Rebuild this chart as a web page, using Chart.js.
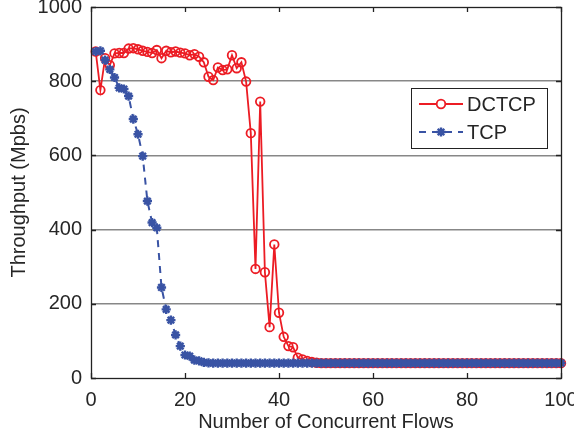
<!DOCTYPE html>
<html>
<head>
<meta charset="utf-8">
<script src="https://cdn.jsdelivr.net/npm/chart.js@4"></script>
<style>
  html, body { margin: 0; padding: 0; background: #fff; }
</style>
</head>
<body>
<canvas id="myChart" width="574" height="431"></canvas>
<script>
// number of concurrent flows, 1..100
const flows = Array.from({ length: 100 }, (_, i) => i + 1);

const dctcp = [
    880, 776, 862, 843, 875, 876, 876, 888, 889, 886,
    882, 879, 876, 884, 862, 882, 878, 880, 877, 875,
    870, 873, 866, 851, 812, 803, 837, 830, 832, 870,
    835, 851, 799, 660, 294, 745, 285, 137, 360, 176,
    111, 86, 83, 55, 50, 46, 43, 41, 40, 40,
    40, 40, 40, 40, 40, 40, 40, 40, 40, 40,
    40, 40, 40, 40, 40, 40, 40, 40, 40, 40,
    40, 40, 40, 40, 40, 40, 40, 40, 40, 40,
    40, 40, 40, 40, 40, 40, 40, 40, 40, 40,
    40, 40, 40, 40, 40, 40, 40, 40, 40, 40
];

const tcp = [
    880, 882, 857, 832, 810, 782, 779, 760, 698, 657,
    598, 477, 419, 405, 244, 185, 156, 116, 86, 62,
    59, 48, 46, 42, 41, 40, 40, 40, 40, 40,
    40, 40, 40, 40, 40, 40, 40, 40, 40, 40,
    40, 40, 40, 40, 40, 40, 40, 40, 40, 40,
    40, 40, 40, 40, 40, 40, 40, 40, 40, 40,
    40, 40, 40, 40, 40, 40, 40, 40, 40, 40,
    40, 40, 40, 40, 40, 40, 40, 40, 40, 40,
    40, 40, 40, 40, 40, 40, 40, 40, 40, 40,
    40, 40, 40, 40, 40, 40, 40, 40, 40, 40
];

const xTicks = [0, 20, 40, 60, 80, 100];
const yTicks = [0, 200, 400, 600, 800, 1000];

const FONT = '"Liberation Sans", Arial, Helvetica, sans-serif';
const TEXT = '#262626';
const RED = '#ec1c24';
const BLUE = '#3953a4';

function pts(vals) {
    return vals.map((v, i) => ({ x: flows[i], y: v }));
}

// frame, inward ticks and the boxed legend
const framePlugin = {
    id: 'frame',
    afterDraw(chart) {
        const ctx = chart.ctx;
        const a = chart.chartArea;
        const xs = chart.scales.x, ys = chart.scales.y;
        ctx.save();
        ctx.strokeStyle = '#222';
        ctx.lineWidth = 1.3;
        ctx.beginPath();
        xTicks.forEach(t => {
            const px = Math.round(xs.getPixelForValue(t)) + 0.5;
            ctx.moveTo(px, a.bottom); ctx.lineTo(px, a.bottom - 5);
            ctx.moveTo(px, a.top); ctx.lineTo(px, a.top + 5);
        });
        yTicks.forEach(t => {
            const py = Math.round(ys.getPixelForValue(t)) + 0.5;
            ctx.moveTo(a.left, py); ctx.lineTo(a.left + 5, py);
            ctx.moveTo(a.right, py); ctx.lineTo(a.right - 5, py);
        });
        ctx.stroke();
        ctx.strokeRect(Math.round(a.left) + 0.5, Math.round(a.top) + 0.5,
            Math.round(a.right - a.left), Math.round(a.bottom - a.top));

        // legend
        const lx = 411, ly = 88, lw = 136, lh = 60;
        ctx.fillStyle = '#fff';
        ctx.fillRect(lx, ly, lw, lh);
        ctx.lineWidth = 1;
        ctx.strokeStyle = '#222';
        ctx.strokeRect(lx + 0.5, ly + 0.5, lw, lh);
        const rows = [
            { ds: chart.data.datasets[0], y: ly + 16 },
            { ds: chart.data.datasets[1], y: ly + 44 }
        ];
        rows.forEach(r => {
            ctx.save();
            ctx.strokeStyle = r.ds.borderColor;
            ctx.lineWidth = r.ds.borderWidth;
            ctx.setLineDash(r.ds.borderDash || []);
            ctx.beginPath();
            ctx.moveTo(419, r.y); ctx.lineTo(463, r.y);
            ctx.stroke();
            ctx.restore();
            ctx.save();
            ctx.strokeStyle = r.ds.pointBorderColor;
            ctx.fillStyle = '#fff';
            ctx.beginPath();
            ctx.arc(441, r.y, 5, 0, Math.PI * 2);
            if (r.ds.pointStyle === 'circle') ctx.fill();
            ctx.fillStyle = r.ds.pointBackgroundColor;
            ctx.lineWidth = r.ds.pointBorderWidth;
            Chart.helpers.drawPoint(ctx, {
                pointStyle: r.ds.pointStyle,
                radius: r.ds.pointRadius,
                borderWidth: r.ds.pointBorderWidth
            }, 441, r.y);
            ctx.restore();
            ctx.fillStyle = TEXT;
            ctx.font = '20px ' + FONT;
            ctx.textBaseline = 'middle';
            ctx.fillText(r.ds.label, 467, r.y + 1);
        });
        ctx.restore();
    }
};

const ctx = document.getElementById('myChart').getContext('2d');
const myChart = new Chart(ctx, {
    type: 'line',
    data: {
        datasets: [{
            label: 'DCTCP',
            data: pts(dctcp),
            borderColor: RED,
            borderWidth: 1.8,
            pointStyle: 'circle',
            pointRadius: 4.3,
            pointBorderWidth: 1.8,
            pointBorderColor: RED,
            pointBackgroundColor: 'rgba(255,255,255,0)',
            tension: 0,
            clip: false,
            order: 1
        }, {
            label: 'TCP',
            data: pts(tcp),
            borderColor: BLUE,
            borderWidth: 2,
            borderDash: [7, 6],
            pointStyle: 'star',
            pointRadius: 4.6,
            pointBorderWidth: 2.4,
            pointBorderColor: BLUE,
            pointBackgroundColor: BLUE,
            tension: 0,
            clip: false,
            order: 0
        }]
    },
    options: {
        responsive: false,
        animation: false,
        devicePixelRatio: 1,
        layout: { padding: { top: 7, right: 13, left: 0, bottom: 0 } },
        plugins: {
            legend: { display: false },
            tooltip: { enabled: false }
        },
        scales: {
            x: {
                type: 'linear',
                min: 0,
                max: 100,
                afterBuildTicks(scale) { scale.ticks = xTicks.map(v => ({ value: v })); },
                afterFit(scale) {
                    scale.height = 53;
                    scale.paddingLeft = 0; scale.paddingRight = 0;
                },
                grid: { display: false, drawTicks: false },
                border: { display: false },
                ticks: {
                    padding: 10, autoSkip: false, maxRotation: 0,
                    color: TEXT, font: { family: FONT, size: 20 },
                    callback: v => String(v)
                },
                title: {
                    display: true,
                    text: 'Number of Concurrent Flows',
                    color: TEXT,
                    font: { family: FONT, size: 20, lineHeight: 0.9 },
                    padding: { top: 0, bottom: 0 }
                }
            },
            y: {
                min: 0,
                max: 1000,
                afterBuildTicks(scale) { scale.ticks = yTicks.map(v => ({ value: v })); },
                afterFit(scale) {
                    scale.width = 91;
                    scale.paddingTop = 0; scale.paddingBottom = 0;
                },
                grid: {
                    drawTicks: false,
                    lineWidth: 1.5,
                    color: c => (c.tick && (c.tick.value === 0 || c.tick.value === 1000)) ? 'rgba(0,0,0,0)' : '#878787'
                },
                border: { display: false },
                ticks: {
                    padding: 9, autoSkip: false,
                    color: TEXT, font: { family: FONT, size: 20 },
                    callback: v => String(v)
                },
                title: {
                    display: true,
                    text: 'Throughput (Mpbs)',
                    color: TEXT,
                    font: { family: FONT, size: 20 },
                    padding: { top: 7, bottom: 0 }
                }
            }
        }
    },
    plugins: [framePlugin]
});
</script>
</body>
</html>
